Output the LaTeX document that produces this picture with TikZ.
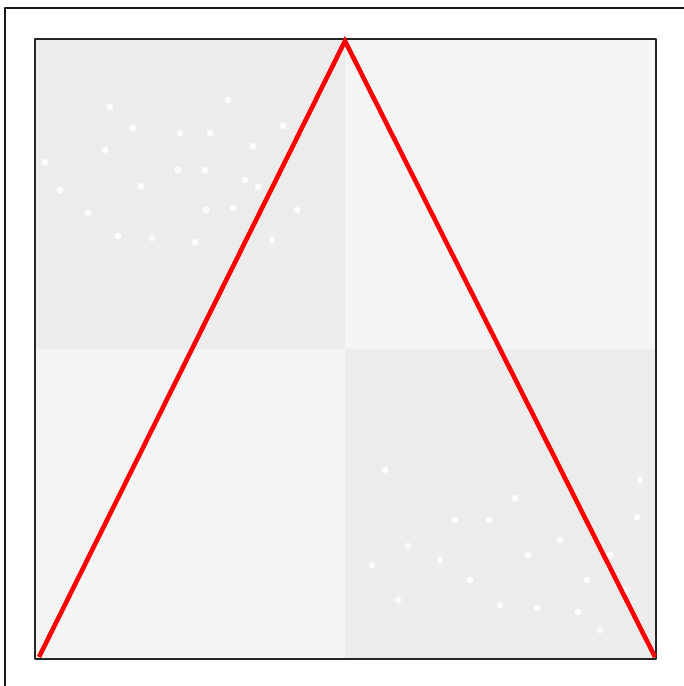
\documentclass[tikz,border=0pt]{standalone}
\usepackage{tikz}
\definecolor{quaddark}{HTML}{ECECEC}
\definecolor{quadlight}{HTML}{F5F5F5}
\tikzset{
  frameline/.style={line width=2.2pt,black!90},
  boxline/.style={line width=2pt,black!85},
  triline/.style={line width=4.6pt,red,line join=miter,line cap=butt},
  speck/.style={white,opacity=0.85}
}
\begin{document}
\begin{tikzpicture}[x=1pt,y=-1pt,line cap=round,line join=round]
  \useasboundingbox (0,0) rectangle (684,686);
  % outer frame, only the left and top sides are visible
  \draw[frameline,line cap=butt] (5,686) -- (5,8) -- (684,8);
  % four quadrants of the plate
  \fill[quaddark] (35,39) rectangle (345,349);
  \fill[quadlight] (345,39) rectangle (656,349);
  \fill[quadlight] (35,349) rectangle (345,659);
  \fill[quaddark] (345,349) rectangle (656,659);
  % white specks
  \foreach \px/\py in {133/128,105/150,180/133,210/133,253/146,141/186,178/170,
      205/170,245/180,88/213,118/236,152/238,195/242,206/210,233/208,272/240,
      297/210,258/187,45/162,60/190,283/126,110/107,228/100,
      515/498,489/520,408/546,528/555,560/540,637/517,587/580,610/555,
      500/605,537/608,578/612,470/580,440/560,372/565,398/600,625/590,
      455/520,600/630,385/470,640/480}
    \fill[speck] (\px,\py) circle (3.4);
  \draw[boxline] (35,39) rectangle (656,659);
  % red triangle
  \coordinate (left) at (39,657);
  \coordinate (apex) at (345,41);
  \coordinate (right) at (655,657);
  \draw[triline] (left) -- (apex) -- (right);
\end{tikzpicture}
\end{document}
